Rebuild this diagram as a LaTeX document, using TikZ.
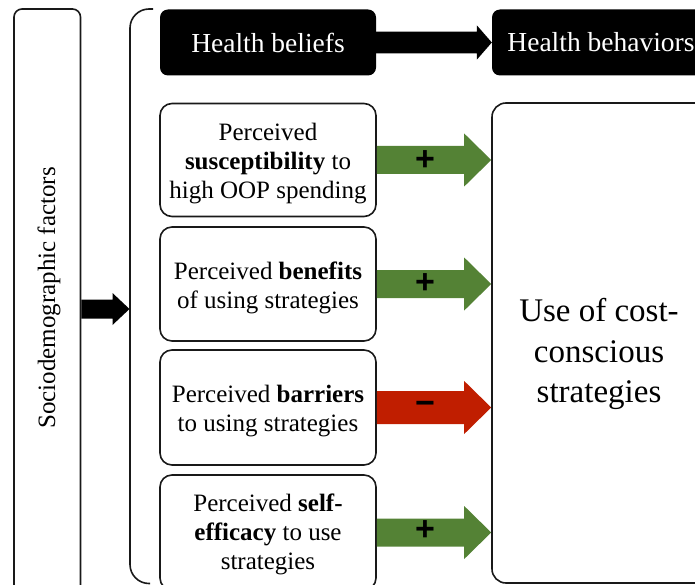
\documentclass[tikz,border=0pt]{standalone}
\usepackage{fontspec}
\setmainfont{Liberation Serif}
\newfontfamily\signfont{Liberation Sans}
\usetikzlibrary{calc}
\definecolor{ggreen}{RGB}{84,130,53}
\definecolor{rred}{RGB}{192,30,0}
\definecolor{lc}{RGB}{25,25,25}
\begin{document}
\begin{tikzpicture}[x=1pt,y=-1pt,
  box/.style={draw=lc, line width=1.6pt, rounded corners=12pt, fill=white, inner sep=0pt, minimum width=216pt},
  boxtext/.style={align=center, inner sep=0pt, font=\fontsize{25}{29}\selectfont},
  headbox/.style={fill=black, rounded corners=8pt, text=white, inner sep=0pt, minimum height=66pt, font=\fontsize{27.5}{32}\selectfont},
  sign/.style={font=\signfont\bfseries\fontsize{34}{34}\selectfont, inner sep=0pt},
  blockarrow/.style n args={3}{to path={let \p1=(\tikztostart), \p2=(\tikztotarget) in
     (\x1,\y1+#1) -- (\x2-#3,\y1+#1) -- (\x2-#3,\y1+#2) -- (\x2,\y1) -- (\x2-#3,\y1-#2) -- (\x2-#3,\y1-#1) -- (\x1,\y1-#1) -- cycle}}
]
\useasboundingbox (0,0) rectangle (695,585);
\clip (0,0) rectangle (695,585);

% left box
\node[draw=lc, line width=1.6pt, rounded corners=8pt, minimum width=66.5pt, minimum height=591pt, inner sep=0pt] (lbox) at (47.25,304.5) {};
\node[rotate=90, inner sep=0pt, font=\fontsize{25}{29}\selectfont] (soc) at (49,298) {Sociodemographic factors};

% bracket
\draw[lc, line width=1.6pt, rounded corners=19pt] (153,9) -- (130,9) -- (130,583.5) -- (150,583.5);
\coordinate (bk) at (129.5,309);
\fill[black, blockarrow={9.5pt}{16pt}{17pt}] (lbox.east |- bk) to (bk);

% header boxes
\node[headbox, minimum width=216pt] (beliefs) at (268,42.5) {Health beliefs};
\node[headbox, minimum width=218pt] (behav) at (601,42.5) {Health behaviors};
\fill[black, blockarrow={10.8pt}{17.2pt}{15pt}] (beliefs.east) to (beliefs.east -| behav.west);

% belief boxes
\node[box, minimum height=113pt] (sus) at (268,160) {};
\node[box, minimum height=114pt] (ben) at (268,284) {};
\node[box, minimum height=115pt] (bar) at (268,407.5) {};
\node[box, minimum height=115pt] (eff) at (268,532.5) {};
\node[boxtext] (sust) at ($(sus.center)+(0,3.5)$) {Perceived\\\textbf{susceptibility} to\\high OOP spending};
\node[boxtext] (bent) at ($(ben.center)+(0,3.5)$) {Perceived \textbf{benefits}\\of using strategies};
\node[boxtext] (bart) at ($(bar.center)+(0,3.5)$) {Perceived \textbf{barriers}\\to using strategies};
\node[boxtext] (efft) at ($(eff.center)+(0,2)$) {Perceived \textbf{self-}\\\textbf{efficacy} to use\\strategies};

% behavior box
\node[draw=lc, line width=1.6pt, rounded corners=14pt, minimum width=218pt, minimum height=480pt, inner sep=0pt] (big) at (601,343) {};
\node[align=center, inner sep=0pt, font=\fontsize{33}{40.5}\selectfont] (use) at (599,354) {Use of cost-\\conscious\\strategies};

% arrows
\fill[ggreen, blockarrow={14pt}{26.5pt}{27pt}] (sus.east) to (sus.east -| big.west);
\fill[ggreen, blockarrow={14pt}{26.5pt}{27pt}] (ben.east) to (ben.east -| big.west);
\fill[rred, blockarrow={16.5pt}{26.5pt}{27pt}] (bar.east) to (bar.east -| big.west);
\fill[ggreen, blockarrow={14pt}{26.5pt}{27pt}] (eff.east) to (eff.east -| big.west);

\node[sign] (p1) at (425,161) {+};
\node[sign] (p2) at (425,284) {+};
\node[sign] (m3) at (425,408) {−};
\node[sign] (p4) at (425,531) {+};
\end{tikzpicture}
\end{document}
